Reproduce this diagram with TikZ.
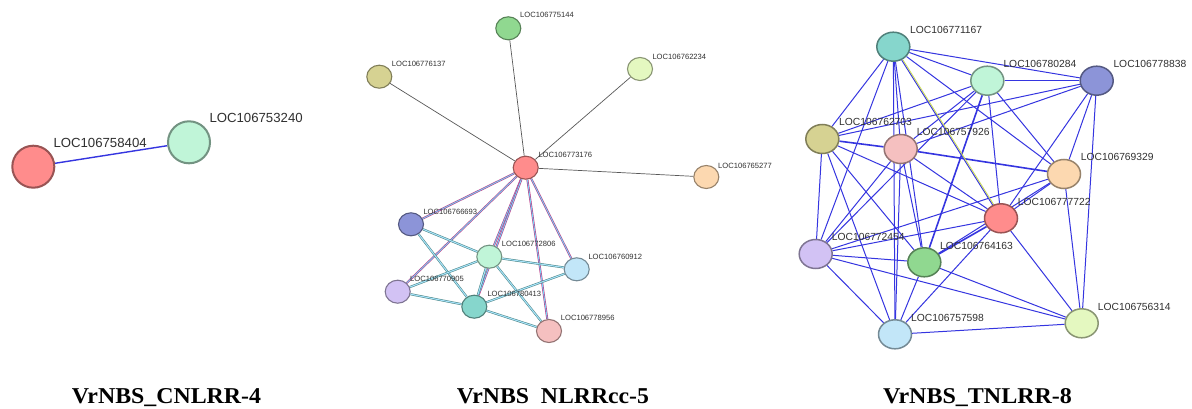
\documentclass[tikz,border=0pt]{standalone}
\usepackage{fontspec}
\usetikzlibrary{shapes.geometric,backgrounds}
\newfontfamily\labfont{Liberation Sans}
\newfontfamily\capfont{Liberation Serif}
\definecolor{cRed}{HTML}{FF8C8C}
\definecolor{cMint}{HTML}{C0F5D8}
\definecolor{cGreen}{HTML}{90D890}
\definecolor{cOlive}{HTML}{D6D292}
\definecolor{cLime}{HTML}{E4F8C0}
\definecolor{cPeach}{HTML}{FCD8B0}
\definecolor{cBlue}{HTML}{8C94D8}
\definecolor{cSky}{HTML}{C2E6F8}
\definecolor{cLav}{HTML}{D2C2F4}
\definecolor{cTeal}{HTML}{86D6CC}
\definecolor{cPink}{HTML}{F5C0C0}
\definecolor{labgray}{HTML}{303030}
\definecolor{edgeblue}{HTML}{3535E0}
\definecolor{ygreen}{HTML}{C8D858}
\tikzset{
  gnode/.style={ellipse, inner sep=0pt},
  paint/.style={fill=#1, draw=#1!60!black},
  bignode/.style={gnode, minimum width=42pt, minimum height=42pt, line width=2pt},
  midnode/.style={gnode, minimum width=25pt, minimum height=23pt, line width=1.1pt},
  rnode/.style={gnode, minimum width=33pt, minimum height=29pt, line width=1.5pt},
  biglab/.style={anchor=west, inner sep=0pt, text=labgray, font=\labfont\fontsize{13.2}{14}\selectfont},
  midlab/.style={anchor=west, inner sep=0pt, text=labgray, font=\labfont\fontsize{7.6}{8}\selectfont},
  rlab/.style={anchor=west, inner sep=0pt, text=labgray, font=\labfont\fontsize{10.3}{11}\selectfont},
  spoke/.style={draw=black!65, line width=0.7pt},
  multi/.style={draw=magenta!75!black, double=cyan!55, double distance=0.9pt, line width=0.55pt},
  clus/.style={draw=teal!45!gray, double=cyan!35, double distance=1.1pt, line width=0.5pt},
  redge/.style={draw=edgeblue, line width=1pt},
  thick edge/.style={draw=edgeblue, line width=1.6pt},
  title/.style={anchor=base, inner sep=0pt, font=\capfont\bfseries}
}
\begin{document}
\begin{tikzpicture}[x=1pt,y=-1pt]
\useasboundingbox (0,0) rectangle (1192,409);

% ---------- left network ----------
\node[bignode, paint=cRed] (l1) at (33.3,166.7) {};
\node[bignode, paint=cMint] (l2) at (189,142.3) {};
\node[biglab] (l1t) at (53.3,142.7) {LOC106758404};
\node[biglab] (l2t) at (209.3,118.3) {LOC106753240};

% ---------- middle network ----------
\node[midnode, paint=cGreen] (m1) at (508.3,28.3) {};
\node[midnode, paint=cOlive] (m2) at (379.3,76.7) {};
\node[midnode, paint=cLime] (m3) at (640,69) {};
\node[midnode, paint=cRed] (m4) at (525.7,167.7) {};
\node[midnode, paint=cPeach] (m5) at (706.3,177) {};
\node[midnode, paint=cBlue] (m6) at (411,224.3) {};
\node[midnode, paint=cMint] (m7) at (489.3,256.7) {};
\node[midnode, paint=cSky] (m8) at (576.7,269.3) {};
\node[midnode, paint=cLav] (m9) at (397.7,291.7) {};
\node[midnode, paint=cTeal] (m10) at (474.3,306.7) {};
\node[midnode, paint=cPink] (m11) at (549,331) {};
\node[midlab] (m1t) at (520,15) {LOC106775144};
\node[midlab] (m2t) at (391.7,64.3) {LOC106776137};
\node[midlab] (m3t) at (652.3,56.7) {LOC106762234};
\node[midlab] (m4t) at (538.3,155) {LOC106773176};
\node[midlab] (m5t) at (718,165.7) {LOC106765277};
\node[midlab] (m6t) at (423.3,212.3) {LOC106766693};
\node[midlab] (m7t) at (501.7,244) {LOC106772806};
\node[midlab] (m8t) at (588.3,257.3) {LOC106760912};
\node[midlab] (m9t) at (410,279) {LOC106770905};
\node[midlab] (m10t) at (487.3,294.3) {LOC106780413};
\node[midlab] (m11t) at (560.7,318.3) {LOC106778956};

% ---------- right network ----------
\node[rnode, paint=cTeal] (rA) at (893.3,46.7) {};
\node[rnode, paint=cMint] (rB) at (987.3,80.7) {};
\node[rnode, paint=cBlue] (rC) at (1096.7,80.7) {};
\node[rnode, paint=cOlive] (rD) at (822.3,139) {};
\node[rnode, paint=cPink] (rE) at (900.7,149) {};
\node[rnode, paint=cPeach] (rF) at (1064,174) {};
\node[rnode, paint=cRed] (rG) at (1001,218.3) {};
\node[rnode, paint=cLav] (rH) at (815.7,254) {};
\node[rnode, paint=cGreen] (rI) at (924.3,262.3) {};
\node[rnode, paint=cSky] (rJ) at (895,334.3) {};
\node[rnode, paint=cLime] (rK) at (1081.7,323.3) {};
\node[rlab] (rAt) at (910,30) {LOC106771167};
\node[rlab] (rBt) at (1003.3,64) {LOC106780284};
\node[rlab] (rCt) at (1113.3,64) {LOC106778838};
\node[rlab] (rDt) at (839,121.7) {LOC106762703};
\node[rlab] (rEt) at (916.7,132.3) {LOC106757926};
\node[rlab] (rFt) at (1080.7,157.3) {LOC106769329};
\node[rlab] (rGt) at (1017.7,201.7) {LOC106777722};
\node[rlab] (rHt) at (831.7,237.3) {LOC106772454};
\node[rlab] (rIt) at (940,245.7) {LOC106764163};
\node[rlab] (rJt) at (911,317.7) {LOC106757598};
\node[rlab] (rKt) at (1097.7,306.7) {LOC106756314};

% ---------- titles ----------
\node[title] (t1) at (166.5,403.5) {\resizebox{189pt}{15pt}{VrNBS\_CNLRR-4}};
\node[title] (t2) at (553,403.5) {\resizebox{192pt}{15pt}{VrNBS\phantom{\_}NLRRcc-5}};
\node[title] (t3) at (977.5,403.5) {\resizebox{189pt}{15pt}{VrNBS\_TNLRR-8}};

% ---------- edges ----------
\begin{scope}[on background layer]
\fill[white] (0,0) rectangle (1192,409);
\draw[draw=edgeblue, line width=1.4pt] (l1) -- (l2);

\foreach \t in {m1,m2,m3,m5} \draw[spoke] (m4) -- (\t);
\foreach \t in {m6,m7,m8,m9,m10,m11} \draw[multi] (m4) -- (\t);
\foreach \a/\b in {m6/m7,m6/m10,m9/m7,m9/m10,m7/m8,m7/m11,m7/m10,m10/m8,m10/m11}
  \draw[clus] (\a) -- (\b);

\foreach \a/\b in {rA/rB,rA/rC,rA/rD,rA/rE,rA/rF,rA/rH,rA/rI,rA/rJ,
  rB/rC,rB/rD,rB/rE,rB/rF,rB/rG,rB/rH,
  rC/rD,rC/rE,rC/rF,rC/rG,rC/rK,
  rD/rG,rD/rH,rD/rI,rD/rJ,
  rE/rG,rE/rH,rE/rI,rE/rJ,
  rF/rG,rF/rH,rF/rI,rF/rK,
  rG/rH,rG/rJ,rG/rK,
  rH/rI,rH/rJ,rH/rK,
  rI/rJ,rI/rK,rJ/rK}
  \draw[redge] (\a) -- (\b);
\draw[thick edge] (rB) -- (rI);
\draw[thick edge] (rG) -- (rI);
\draw[thick edge] (rD) -- (rE);
\draw[thick edge] (rE) -- (rF);
\draw[redge] (rA) -- (rG);
\draw[draw=ygreen, line width=0.9pt, transform canvas={xshift=1.3pt}] (rA) -- (rG);
\end{scope}
\end{tikzpicture}
\end{document}
